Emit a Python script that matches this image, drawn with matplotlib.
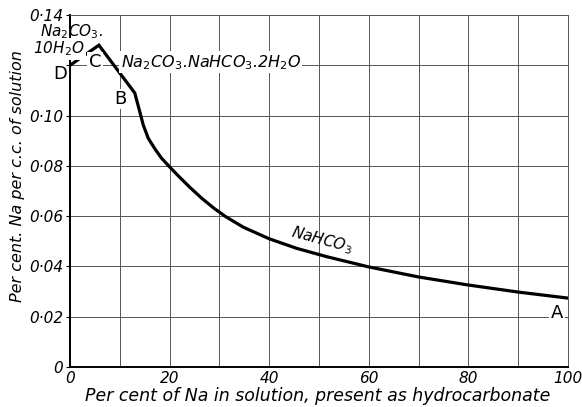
import matplotlib
matplotlib.use("Agg")
import matplotlib.pyplot as plt

# curve: D -> C -> B -> A
pct_hco3 = [0, 5.8, 13.0, 14.0, 14.7, 15.7, 17.1, 18.4, 20.0, 21.75, 24.1,
            26.4, 28.8, 31.1, 34.8, 40.0, 45.5, 51.5, 60, 70, 80, 90, 100]
na_per_cc = [0.120, 0.128, 0.109, 0.1016, 0.0963, 0.0910, 0.0866, 0.0830,
             0.0796, 0.0760, 0.0714, 0.0672, 0.0633, 0.0600, 0.0556, 0.0510,
             0.0472, 0.0439, 0.0398, 0.0358, 0.0326, 0.0298, 0.0274]

x_major = [0, 20, 40, 60, 80, 100]
x_minor = [10, 30, 50, 70, 90]
y_ticks = [0, 0.02, 0.04, 0.06, 0.08, 0.10, 0.12, 0.14]
y_labels = ["0", "0·02", "0·04", "0·06", "0·08", "0·10", "", "0·14"]

plt.rcParams['font.family'] = ['DejaVu Sans']

fig = plt.figure(figsize=(5.82, 4.07), dpi=100)
ax = fig.add_axes([0.1203, 0.0983, 0.8557, 0.8648])

ax.plot(pct_hco3, na_per_cc, color='black', lw=2.3, zorder=3,
        solid_joinstyle='miter')

ax.set_xlim(0, 100)
ax.set_ylim(0, 0.14)
ax.set_xticks(x_major)
ax.set_xticks(x_minor, minor=True)
ax.set_xticklabels([str(v) for v in x_major], fontsize=11, style='italic')
ax.set_yticks(y_ticks)
ax.set_yticklabels(y_labels, fontsize=11, style='italic')
ax.tick_params(axis='both', which='both', length=3, width=0.8, pad=2)
ax.tick_params(axis='x', which='both', length=0, pad=3)
ax.grid(True, which='both', color='#555555', lw=0.7)
ax.set_axisbelow(True)
for s in ['left', 'bottom']:
    ax.spines[s].set_linewidth(1.4)
for s in ['top', 'right']:
    ax.spines[s].set_linewidth(0.7)
    ax.spines[s].set_color('#555555')

ax.set_xlabel("Per cent of Na in solution, present as hydrocarbonate",
              fontsize=12.5, style='italic')
ax.xaxis.set_label_coords(0.498, -0.058)
ax.set_ylabel("Per cent. Na per c.c. of solution", fontsize=11.5,
              style='italic')
ax.yaxis.set_label_coords(-0.09, 0.543)

wbox = dict(facecolor='white', edgecolor='none', pad=1.0)
ax.text(-6.0, 0.1335, "Na$_2$CO$_3$.", fontsize=11, style='italic',
        ha='left', va='center', clip_on=False)
ax.text(-7.5, 0.1265, "10H$_2$O", fontsize=11, style='italic',
        ha='left', va='center', clip_on=False, bbox=wbox)
ax.text(-1.9, 0.1165, "D", fontsize=13, ha='center', va='center',
        clip_on=False)
ax.text(5.0, 0.1212, "C", fontsize=13, ha='center', va='center', bbox=wbox)
ax.text(10.2, 0.1066, "B", fontsize=13, ha='center', va='center', bbox=wbox)
ax.text(97.8, 0.0215, "A", fontsize=13, ha='center', va='center', bbox=wbox)
ax.text(10.2, 0.1212, "Na$_2$CO$_3$.NaHCO$_3$.2H$_2$O", fontsize=11.5,
        style='italic', ha='left', va='center', bbox=wbox)
ax.text(50.6, 0.0505, "NaHCO$_3$", fontsize=11, style='italic',
        ha='center', va='center', rotation=-15)

fig.savefig("out.png", dpi=100)
